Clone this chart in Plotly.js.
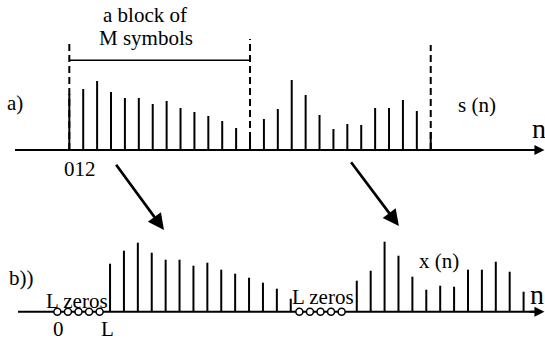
<!DOCTYPE html>
<html>
<head>
<meta charset="utf-8">
<script src="https://cdn.plot.ly/plotly-3.0.1.min.js"></script>
<style>html,body{margin:0;padding:0;background:#fff;}#chart{width:545px;height:341px;}</style>
</head>
<body>
<div id="chart"></div>
<script>
// ---- data ----
// a) s(n): samples n = 0..26 (n = 13 and n = 26 are the short ones at the block borders)
const sIndex = [0,1,2,3,4,5,6,7,8,9,10,11,12,13,14,15,16,17,18,19,20,21,22,23,24,25,26];
const sValues = [56,61,69,58,52,52,46,49,42,38,34,29,22,13,31,41,70,55,35,21,26,25,42,42,50,39,18];
// b) x(n): two blocks, each preceded by L zeros
const L = 5;
const xBlock1 = [48,61,69,59,52,52,46,49,42,38,34,29,23,13];
const xBlock2 = [31,41,70,56,35,22,26,25,42,42,50,40,20];
const blockSizeM = 13;

// ---- layout constants ----
const zeroStep = 0.76;
const zeroStarts = [-0.86, 16.55];
const blockStarts = [2.93, 20.68];
const FONT = 'Liberation Serif';

function stems(xs, hs) {
  const x = [], y = [];
  xs.forEach((v, i) => { x.push(v, v, null); y.push(0, hs[i], null); });
  return {x, y};
}
const sTop = stems(sIndex, sValues);
const b1x = xBlock1.map((_, i) => blockStarts[0] + i);
const b2x = xBlock2.map((_, i) => blockStarts[1] + i);
const sb = stems(b1x.concat(b2x), xBlock1.concat(xBlock2));
const zx = [];
zeroStarts.forEach(z0 => { for (let k = 0; k < L; k++) zx.push(z0 + k * zeroStep); });

const traces = [
  {x: sTop.x, y: sTop.y, mode: 'lines', line: {color: '#000', width: 2}, xaxis: 'x', yaxis: 'y', hoverinfo: 'skip'},
  {x: sb.x, y: sb.y, mode: 'lines', line: {color: '#000', width: 2}, xaxis: 'x', yaxis: 'y2', hoverinfo: 'skip'},
  {x: zx, y: zx.map(() => 0), mode: 'markers', marker: {symbol: 'circle', size: 7, color: '#fff', line: {color: '#000', width: 1.5}}, xaxis: 'x', yaxis: 'y2', hoverinfo: 'skip'}
];

const lastTop = sIndex[sIndex.length - 1];
const shapes = [
  // axes
  {type: 'line', xref: 'x', yref: 'y', x0: -3.91, x1: 33.9, y0: 0, y1: 0, line: {color: '#000', width: 2}, layer: 'below'},
  {type: 'line', xref: 'x', yref: 'y2', x0: -3.69, x1: 33.9, y0: 0, y1: 0, line: {color: '#000', width: 2}, layer: 'below'},
  // block borders (dashed)
  {type: 'line', xref: 'x', yref: 'y', x0: 0, x1: 0, y0: 0, y1: 110, line: {color: '#000', width: 2, dash: '7px,4px'}, layer: 'below'},
  {type: 'line', xref: 'x', yref: 'y', x0: blockSizeM, x1: blockSizeM, y0: 0, y1: 111, line: {color: '#000', width: 2, dash: '7px,4px'}, layer: 'below'},
  {type: 'line', xref: 'x', yref: 'y', x0: lastTop, x1: lastTop, y0: 0, y1: 105, line: {color: '#000', width: 2, dash: '7px,4px'}, layer: 'below'},
  // bracket
  {type: 'line', xref: 'x', yref: 'y', x0: 0, x1: blockSizeM, y0: 89.7, y1: 89.7, line: {color: '#000', width: 1.6}, layer: 'below'}
];

function txt(text, x, y, yref, size) {
  return {text: text, x: x, y: y, xref: 'x', yref: yref, showarrow: false, xanchor: 'center', yanchor: 'middle',
          font: {family: FONT, size: size || 21, color: '#000'}};
}
function arrow(x0, y0, x1, y1, yref, w, s) {
  return {text: '', x: x1, y: y1, ax: x0, ay: y0, xref: 'x', yref: yref, axref: 'x', ayref: yref,
          showarrow: true, arrowhead: 2, arrowwidth: w, arrowsize: s, arrowcolor: '#000', standoff: 0, startstandoff: 0};
}

const annotations = [
  txt('a block of', 5.45, 135.5, 'y'),
  txt('M symbols', 5.52, 112.5, 'y'),
  txt('a)', -3.91, 47, 'y'),
  txt('s (n)', 29.31, 45.5, 'y'),
  txt('n', 33.79, 22, 'y', 28),
  txt('012', 0.75, -19.3, 'y'),
  txt('b))', -3.42, 33.7, 'y2'),
  txt('L zeros', 0.53, 10.5, 'y2'),
  txt('0', -0.76, -17.6, 'y2'),
  txt('L', 2.75, -17.6, 'y2'),
  txt('L zeros', 18.27, 15.2, 'y2'),
  txt('x (n)', 26.58, 50.7, 'y2'),
  txt('n', 33.65, 17, 'y2', 28),
  arrow(33.0, 0, 34.18, 0, 'y', 2, 1),
  arrow(33.0, 0, 34.18, 0, 'y2', 2, 1),
  arrow(3.29, -13.3, 6.81, -80, 'y', 2.7, 1.2),
  arrow(20.19, -10.7, 23.71, -76, 'y', 2.7, 1.2)
];

const layout = {
  width: 545, height: 341,
  margin: {l: 0, r: 0, t: 0, b: 0},
  paper_bgcolor: '#fff', plot_bgcolor: '#fff',
  showlegend: false,
  font: {family: FONT},
  xaxis: {range: [-4.986, 34.22], visible: false, fixedrange: true},
  yaxis: {range: [-191, 150], visible: false, fixedrange: true},
  yaxis2: {range: [-29.3, 311.7], visible: false, overlaying: 'y', fixedrange: true},
  shapes: shapes,
  annotations: annotations
};

Plotly.newPlot('chart', traces, layout, {staticPlot: true, displayModeBar: false});
</script>
</body>
</html>
